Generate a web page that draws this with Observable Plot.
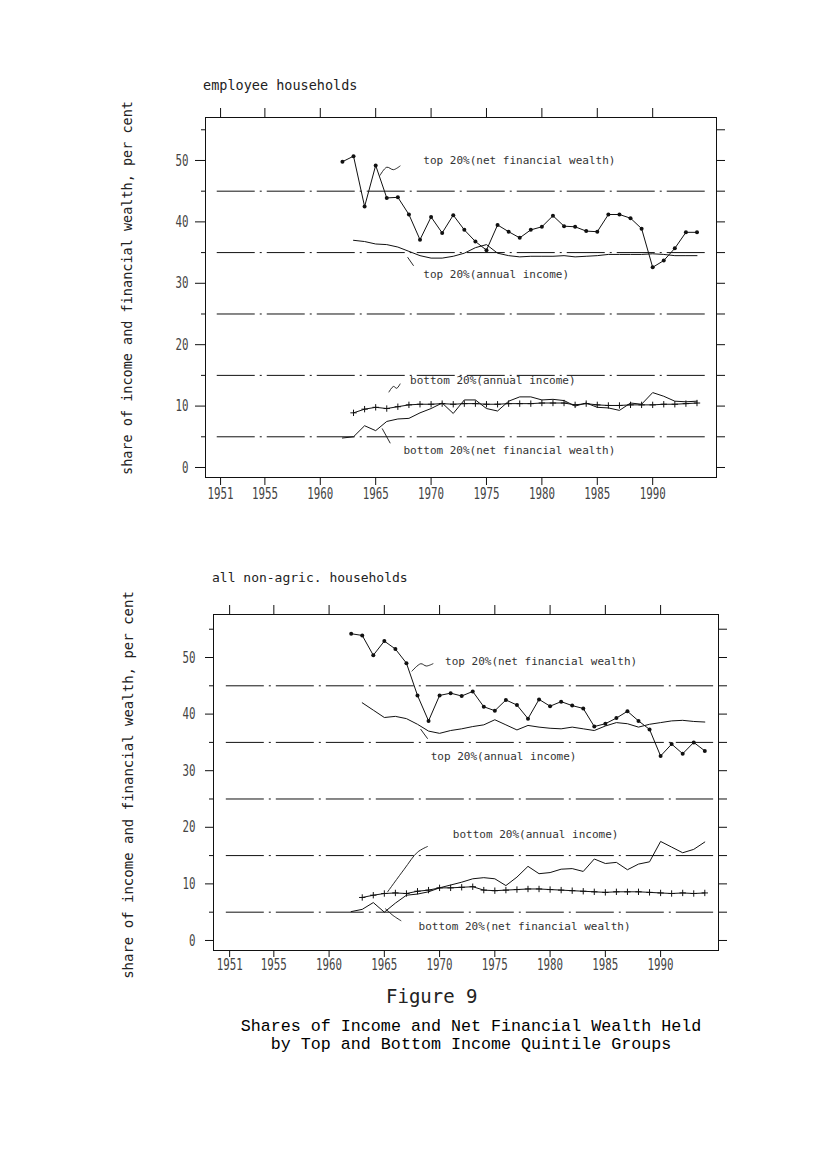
<!DOCTYPE html>
<html><head><meta charset="utf-8">
<script src="https://cdn.jsdelivr.net/npm/d3@7"></script>
<script src="https://cdn.jsdelivr.net/npm/@observablehq/plot@0.6"></script>
<style>
body{margin:0;background:#fff;}
#page{position:relative;width:827px;height:1170px;background:#fff;overflow:hidden;font-family:"DejaVu Sans Mono",monospace;color:#111;}
.abs{position:absolute;white-space:nowrap;line-height:1;}
.ytitle{transform:translate(-50%,-50%) rotate(-90deg);font-size:13.5px;color:#222;}
</style></head><body><div id="page">
<div class="abs" style="left:203px;top:79px;font-size:13.5px;color:#222;">employee households</div>
<div class="abs ytitle" style="left:128px;top:288px;">share of income and financial wealth, per cent</div>
<div class="abs" style="left:212px;top:571px;font-size:13px;color:#222;">all non-agric. households</div>
<div class="abs ytitle" style="left:128px;top:785px;font-size:14px;">share of income and financial wealth, per cent</div>
<div class="abs" style="left:386px;top:987px;font-size:19px;color:#222;">Figure 9</div>
<div class="abs" style="left:171px;top:1018px;width:600px;text-align:center;font-family:'Liberation Mono',monospace;font-size:16.7px;line-height:18px;color:#000;white-space:pre;">Shares of Income and Net Financial Wealth Held
by Top and Bottom Income Quintile Groups</div>
</div>
<script>
// ---------- data ----------
const yearsFull = [1962,1963,1964,1965,1966,1967,1968,1969,1970,1971,1972,1973,1974,1975,1976,1977,1978,1979,1980,1981,1982,1983,1984,1985,1986,1987,1988,1989,1990,1991,1992,1993,1994];
const yearsFrom63 = [1963,1964,1965,1966,1967,1968,1969,1970,1971,1972,1973,1974,1975,1976,1977,1978,1979,1980,1981,1982,1983,1984,1985,1986,1987,1988,1989,1990,1991,1992,1993,1994];

// employee households
const empTopWealth = [49.8,50.7,42.5,49.2,43.9,44.0,41.2,37.1,40.8,38.2,41.1,38.7,36.8,35.4,39.5,38.4,37.4,38.7,39.2,41.0,39.3,39.2,38.5,38.4,41.2,41.2,40.6,38.9,32.6,33.7,35.7,38.3,38.3];
const empTopIncome = [37.0,36.8,36.4,36.3,35.9,35.2,34.5,34.1,34.1,34.4,34.9,35.8,36.3,34.9,34.5,34.3,34.4,34.4,34.4,34.5,34.3,34.4,34.5,34.7,34.7,34.7,34.7,34.8,34.7,34.5,34.5,34.5];
const empBottomIncome = [8.9,9.5,9.8,9.6,9.9,10.2,10.3,10.3,10.4,10.3,10.4,10.4,10.3,10.3,10.4,10.4,10.4,10.5,10.5,10.5,10.2,10.4,10.2,10.1,10.1,10.2,10.2,10.2,10.3,10.3,10.4,10.5];
const empBottomWealth = [4.8,5.0,6.8,6.0,7.5,7.9,8.0,8.9,9.6,10.5,8.8,11.0,11.0,9.6,9.2,10.8,11.5,11.5,11.0,11.1,10.9,10.0,10.5,9.8,9.7,9.3,10.5,10.3,12.2,11.6,10.8,10.7,10.8];

// all non-agricultural households
const allTopWealth = [54.2,53.9,50.4,52.9,51.5,49.0,43.3,38.8,43.3,43.7,43.2,44.0,41.3,40.6,42.5,41.6,39.2,42.6,41.4,42.2,41.5,41.0,37.8,38.3,39.3,40.5,38.8,37.3,32.6,34.7,33.0,35.0,33.5];
const allTopIncome = [42.0,40.7,39.4,39.6,39.2,38.2,37.0,36.6,37.1,37.4,37.8,38.1,39.0,38.1,37.2,38.0,37.7,37.5,37.4,37.7,37.4,37.1,37.9,38.5,38.3,37.7,38.2,38.5,38.8,38.9,38.7,38.6];
const allBottomIncome = [7.6,8.0,8.3,8.4,8.3,8.7,8.9,9.3,9.3,9.4,9.5,8.9,8.8,8.9,9.0,9.1,9.1,9.0,8.9,8.8,8.7,8.6,8.5,8.6,8.6,8.6,8.5,8.4,8.3,8.4,8.3,8.4];
const allBottomWealth = [5.1,5.5,6.7,5.0,6.6,8.0,8.2,8.6,9.3,9.8,10.3,10.9,11.1,10.9,9.7,11.2,13.1,11.8,12.0,12.6,12.7,12.2,14.4,13.6,13.8,12.5,13.5,13.9,17.5,16.5,15.5,16.1,17.4];

// axes
const xTickYears = [1951,1955,1960,1965,1970,1975,1980,1985,1990];
const yMajor = [0,10,20,30,40,50];
const yMinor = [5,15,25,35,45,55];
const yRight = [0,5,10,15,20,25,30,35,40,45,50,55];
const refLines = [5,15,25,35,45];

// annotations (data coordinates)
const labelTexts = ["top 20%(net financial wealth)","top 20%(annual income)","bottom 20%(annual income)","bottom 20%(net financial wealth)"];
const empLabelYear = [1969.3,1969.3,1968.1,1967.5];
const empLabelValue = [50.0,31.4,14.2,2.85];
const allLabelYear = [1970.5,1969.2,1971.2,1968.1];
const allLabelValue = [49.3,32.5,18.7,2.4];
const empPointers = [
  {id:1,year:1965.4,value:47.6},{id:1,year:1966.0,value:48.9},{id:1,year:1966.6,value:48.5},{id:1,year:1967.2,value:49.1},
  {id:2,year:1967.9,value:34.2},{id:2,year:1968.4,value:32.9},
  {id:3,year:1966.2,value:12.3},{id:3,year:1966.6,value:13.2},{id:3,year:1966.9,value:12.9},{id:3,year:1967.2,value:13.6},
  {id:4,year:1965.6,value:6.3},{id:4,year:1966.3,value:4.0}
];
const allPointers = [
  {id:1,year:1967.5,value:47.6},{id:1,year:1968.3,value:48.9},{id:1,year:1968.8,value:48.5},{id:1,year:1969.4,value:48.9},
  {id:2,year:1968.3,value:37.3},{id:2,year:1968.9,value:35.7},
  {id:3,year:1968.9,value:16.6},{id:3,year:1968.0,value:15.6},{id:3,year:1966.8,value:12.6},{id:3,year:1965.3,value:8.6},
  {id:4,year:1965.1,value:5.6},{id:4,year:1965.8,value:4.4},{id:4,year:1966.5,value:3.5}
];

// ---------- helpers ----------
const rows = (years, vals) => vals.map((v, i) => ({year: years[i], value: v}));
const labelRows = (yrs, vals) => labelTexts.map((t, i) => ({year: yrs[i], value: vals[i], text: t}));
const ink = "#111";

function chart(cfg) {
  const topW = rows(yearsFull, cfg.topWealth);
  const topI = rows(yearsFrom63, cfg.topIncome);
  const botI = rows(yearsFrom63, cfg.bottomIncome);
  const botW = rows(yearsFull, cfg.bottomWealth);
  const svg = Plot.plot({
    width: 827,
    height: cfg.height,
    marginLeft: cfg.ml, marginRight: cfg.mr, marginTop: cfg.mt, marginBottom: cfg.mb,
    x: {domain: cfg.xDomain},
    y: {domain: cfg.yDomain},
    style: {fontFamily: "DejaVu Sans Mono, monospace", fontSize: "13px", color: ink, background: "transparent", overflow: "visible"},
    marks: [
      Plot.ruleY(refLines, {x1: 1950.7, x2: 1994.8, stroke: ink, strokeWidth: 1, strokeDasharray: "38,5,2,5"}),
      Plot.frame({stroke: ink, strokeWidth: 1}),
      Plot.axisX(xTickYears, {anchor: "bottom", tickSize: cfg.xTickSize, tickPadding: cfg.xTickPad, tickFormat: d => String(d), label: null, fontSize: 16, fill: "#444"}),
      Plot.axisX(xTickYears, {anchor: "top", tickSize: 10, tickFormat: () => "", label: null}),
      Plot.axisY(yMajor, {anchor: "left", tickSize: cfg.yTickSize, tickPadding: cfg.yTickPad, tickFormat: d => String(d), label: null, fontSize: 16, fill: "#444"}),
      Plot.axisY(yMinor, {anchor: "left", tickSize: 4, tickFormat: () => "", label: null}),
      Plot.axisY(yRight, {anchor: "right", tickSize: 8, tickFormat: () => "", label: null}),
      Plot.line(topW, {x: "year", y: "value", stroke: ink, strokeWidth: 1}),
      Plot.dot(topW, {x: "year", y: "value", r: 2, fill: ink}),
      Plot.line(topI, {x: "year", y: "value", stroke: ink, strokeWidth: 1}),
      Plot.line(botI, {x: "year", y: "value", stroke: ink, strokeWidth: 1}),
      Plot.dot(botI, {x: "year", y: "value", symbol: "plus", r: 2.2, stroke: ink, strokeWidth: 1}),
      Plot.line(botW, {x: "year", y: "value", stroke: ink, strokeWidth: 1}),
      Plot.line(cfg.pointers, {x: "year", y: "value", z: "id", curve: "catmull-rom", stroke: ink, strokeWidth: 0.9}),
      Plot.text(cfg.labels, {x: "year", y: "value", text: "text", textAnchor: "start", fontSize: 11, fontFamily: "DejaVu Sans Mono, monospace", fill: "#333"})
    ]
  });
  svg.querySelectorAll('g[aria-label$="tick label"] text').forEach(t => {
    const s = t.textContent;
    if (!s) return;
    t.setAttribute("textLength", s.length * 6.5);
    t.setAttribute("lengthAdjust", "spacingAndGlyphs");
  });
  svg.style.position = "absolute";
  svg.style.left = "0px";
  svg.style.top = cfg.top + "px";
  return svg;
}

const page = document.getElementById("page");
page.appendChild(chart({
  top: 95, height: 420, ml: 205, mr: 111, mt: 22, mb: 38,
  xDomain: [1949.64, 1995.76], yDomain: [-1.63, 57.0],
  xTickSize: 8, xTickPad: 2, yTickSize: 10, yTickPad: 7,
  topWealth: empTopWealth, topIncome: empTopIncome, bottomIncome: empBottomIncome, bottomWealth: empBottomWealth,
  labels: labelRows(empLabelYear, empLabelValue), pointers: empPointers
}));
page.appendChild(chart({
  top: 590, height: 400, ml: 213, mr: 109, mt: 24, mb: 40,
  xDomain: [1949.54, 1995.24], yDomain: [-1.77, 57.6],
  xTickSize: 7, xTickPad: 1, yTickSize: 8, yTickPad: 10,
  topWealth: allTopWealth, topIncome: allTopIncome, bottomIncome: allBottomIncome, bottomWealth: allBottomWealth,
  labels: labelRows(allLabelYear, allLabelValue), pointers: allPointers
}));
</script>
</body></html>
